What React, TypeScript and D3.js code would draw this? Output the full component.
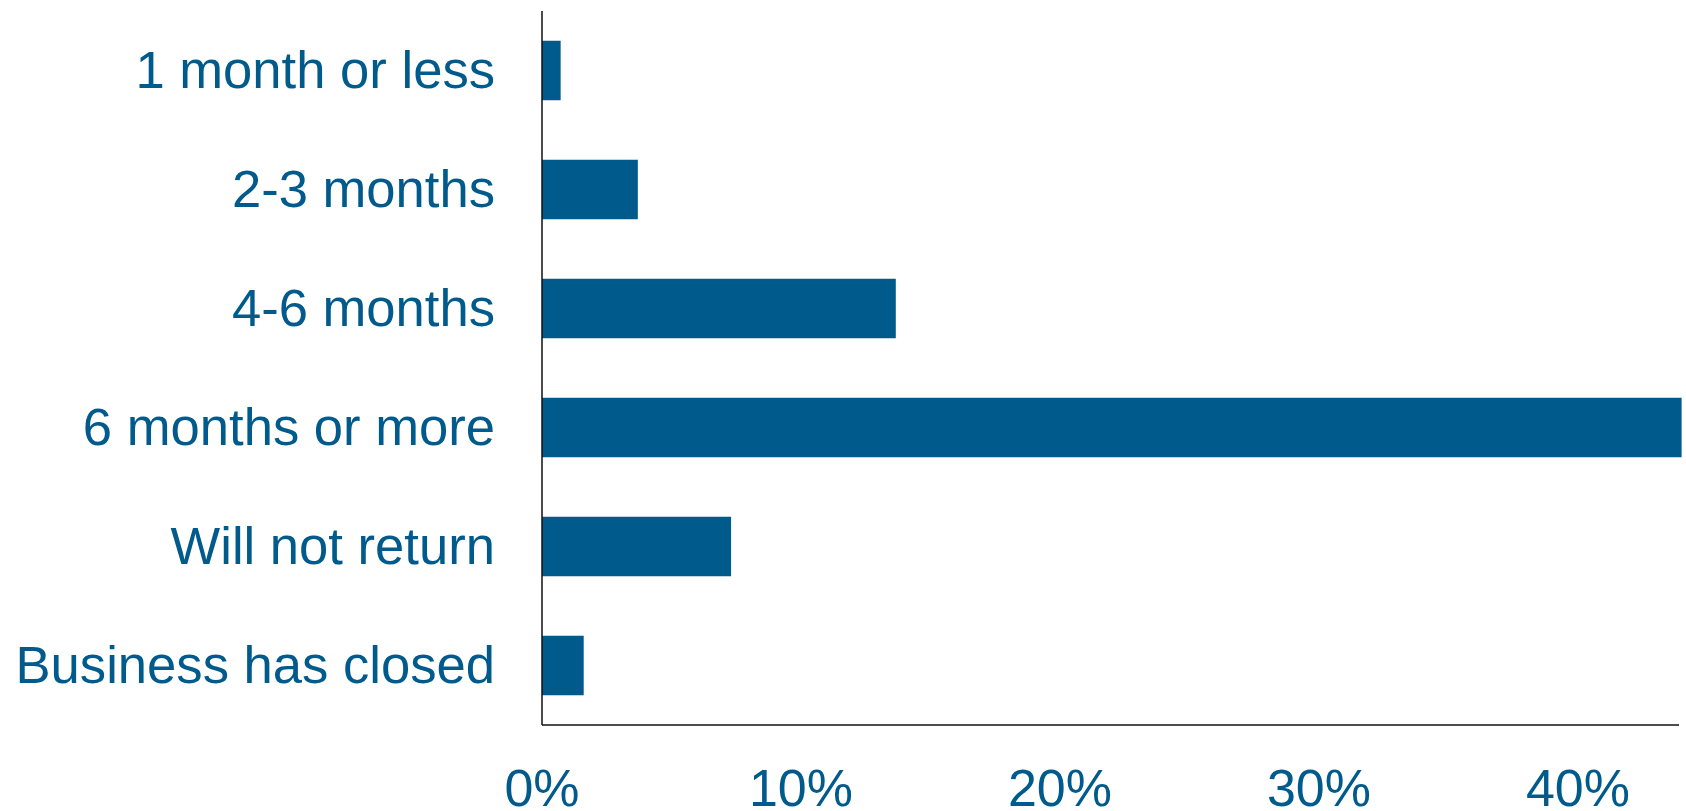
import React, { useEffect, useRef } from "react";
import * as d3 from "d3";

const categories = [
  "1 month or less",
  "2-3 months",
  "4-6 months",
  "6 months or more",
  "Will not return",
  "Business has closed",
];
const values = [0.72, 3.7, 13.66, 44.0, 7.3, 1.61];
const tickValues = [0, 10, 20, 30, 40];
const axisMax = 43.9;

const COLOR = "#005b8c";
const FONT = "'Liberation Sans', Arial, sans-serif";

export default function App() {
  const ref = useRef<SVGSVGElement>(null);

  useEffect(() => {
    const svg = d3.select(ref.current);
    svg.selectAll("*").remove();

    const x0 = 542;
    const top = 11;
    const bottom = 725;
    const x = d3.scaleLinear().domain([0, 10]).range([x0, x0 + 259]);
    const y = d3
      .scaleBand<string>()
      .domain(categories)
      .range([top, bottom])
      .paddingInner(0.5)
      .paddingOuter(0.25);

    svg
      .selectAll("rect.bar")
      .data(values)
      .enter()
      .append("rect")
      .attr("class", "bar")
      .attr("x", x(0))
      .attr("y", (_d, i) => y(categories[i])!)
      .attr("width", (d) => x(d) - x(0))
      .attr("height", y.bandwidth())
      .attr("fill", COLOR);

    svg
      .append("line")
      .attr("x1", x0)
      .attr("x2", x0)
      .attr("y1", top)
      .attr("y2", bottom)
      .attr("stroke", "#111")
      .attr("stroke-width", 1.5);
    svg
      .append("line")
      .attr("x1", x0)
      .attr("x2", x(axisMax))
      .attr("y1", bottom)
      .attr("y2", bottom)
      .attr("stroke", "#111")
      .attr("stroke-width", 1.5);

    svg
      .selectAll("text.cat")
      .data(categories)
      .enter()
      .append("text")
      .attr("class", "cat")
      .attr("x", 495)
      .attr("y", (d) => y(d)! + y.bandwidth() / 2)
      .attr("dy", "0.33em")
      .attr("text-anchor", "end")
      .attr("font-family", FONT)
      .attr("font-size", 52.6)
      .attr("fill", COLOR)
      .text((d) => d);

    svg
      .selectAll("text.tick")
      .data(tickValues)
      .enter()
      .append("text")
      .attr("class", "tick")
      .attr("x", (d) => x(d))
      .attr("y", 806)
      .attr("text-anchor", "middle")
      .attr("font-family", FONT)
      .attr("font-size", 52)
      .attr("fill", COLOR)
      .text((d) => `${d}%`);
  }, []);

  return (
    <svg
      ref={ref}
      width={1686}
      height={811}
      style={{ position: "absolute", left: 0, top: 0, background: "#fff" }}
    />
  );
}
